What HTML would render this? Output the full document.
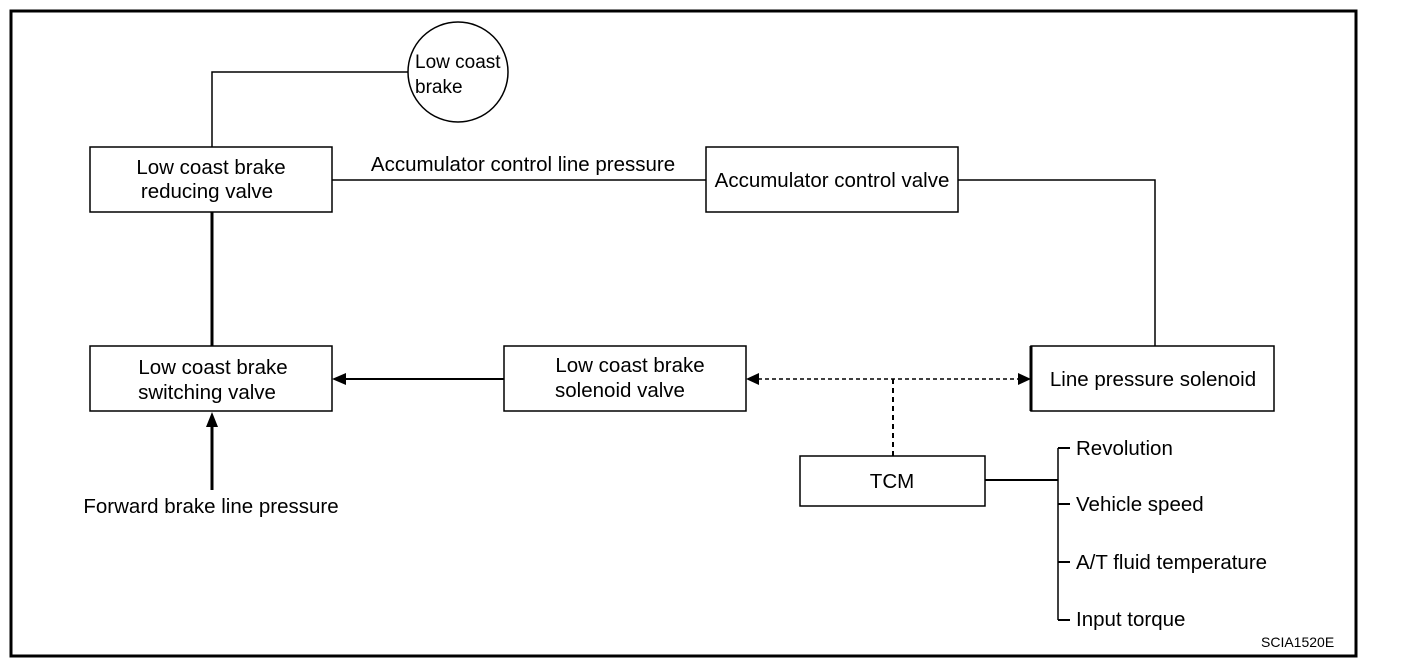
<!DOCTYPE html>
<html><head><style>
body{margin:0;background:#fff;}
svg text{font-family:"Liberation Sans",Arial,sans-serif;font-size:20.5px;fill:#000;}
</style></head><body>
<svg width="1408" height="666" viewBox="0 0 1408 666" xmlns="http://www.w3.org/2000/svg">
<rect x="11" y="11" width="1345" height="645" fill="none" stroke="#000" stroke-width="3"/>
<g fill="none" stroke="#000" stroke-width="1.5">
<ellipse cx="458" cy="72" rx="50" ry="50"/>
<polyline points="408,72 212,72 212,147"/>
<rect x="90" y="147" width="242" height="65"/>
<line x1="332" y1="180" x2="706" y2="180"/>
<rect x="706" y="147" width="252" height="65"/>
<polyline points="958,180 1155,180 1155,346"/>
<rect x="1031" y="346" width="243" height="65"/>
<line x1="1031" y1="346" x2="1031" y2="411" stroke-width="3"/>
<line x1="212" y1="212" x2="212" y2="346" stroke-width="3"/>
<rect x="90" y="346" width="242" height="65"/>
<rect x="504" y="346" width="242" height="65"/>
<line x1="504" y1="379" x2="345" y2="379" stroke-width="2"/>
<line x1="212" y1="490" x2="212" y2="425" stroke-width="3"/>
<line x1="758" y1="379" x2="1019" y2="379" stroke-dasharray="4,3"/>
<line x1="893" y1="379" x2="893" y2="456" stroke-dasharray="5,4" stroke-width="2"/>
<rect x="800" y="456" width="185" height="50"/>
<line x1="985" y1="480" x2="1058" y2="480" stroke-width="2"/>
<line x1="1058" y1="448" x2="1058" y2="620"/>
<line x1="1058" y1="448" x2="1070" y2="448" stroke-width="2"/>
<line x1="1058" y1="504" x2="1070" y2="504" stroke-width="2"/>
<line x1="1058" y1="562" x2="1070" y2="562" stroke-width="2"/>
<line x1="1058" y1="620" x2="1070" y2="620" stroke-width="2"/>
</g>
<polygon points="332,379 346,373 346,385" fill="#000"/>
<polygon points="212,412 206,427 218,427" fill="#000"/>
<polygon points="746,379 759,373 759,385" fill="#000"/>
<polygon points="1031,379 1018,373 1018,385" fill="#000"/>
<text x="415" y="68" style="font-size:19px">Low coast</text>
<text x="415" y="93" style="font-size:19px">brake</text>
<text x="211" y="174" text-anchor="middle">Low coast brake</text>
<text x="207" y="198" text-anchor="middle">reducing valve</text>
<text x="523" y="171" text-anchor="middle">Accumulator control line pressure</text>
<text x="832" y="187" text-anchor="middle">Accumulator control valve</text>
<text x="1153" y="386" text-anchor="middle">Line pressure solenoid</text>
<text x="213" y="374" text-anchor="middle">Low coast brake</text>
<text x="207" y="399" text-anchor="middle">switching valve</text>
<text x="630" y="372" text-anchor="middle">Low coast brake</text>
<text x="620" y="397" text-anchor="middle">solenoid valve</text>
<text x="892" y="488" text-anchor="middle">TCM</text>
<text x="211" y="513" text-anchor="middle">Forward brake line pressure</text>
<text x="1076" y="455">Revolution</text>
<text x="1076" y="511">Vehicle speed</text>
<text x="1076" y="569">A/T fluid temperature</text>
<text x="1076" y="626">Input torque</text>
<text x="1261" y="647" style="font-size:14px">SCIA1520E</text>
</svg>
</body></html>
